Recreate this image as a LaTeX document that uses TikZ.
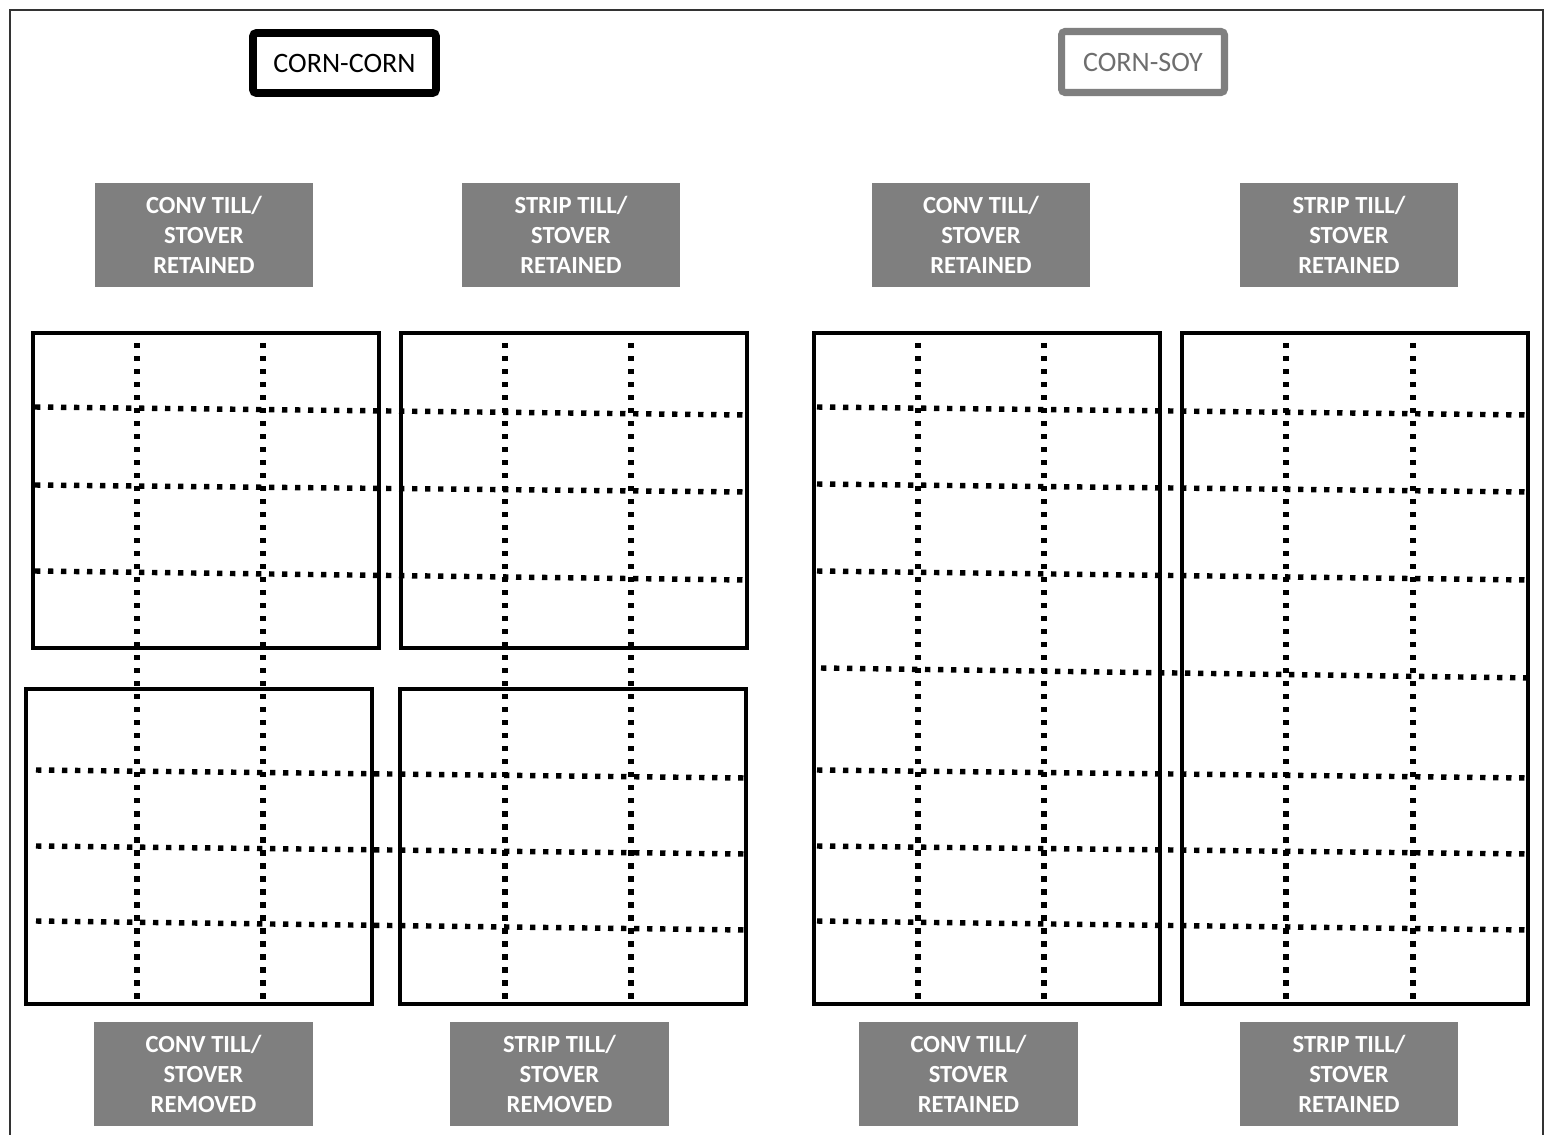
\documentclass[tikz,border=0pt]{standalone}
\usepackage{fontspec}
\setmainfont{Carlito}
\definecolor{labgray}{HTML}{7F7F7F}
\definecolor{framegray}{HTML}{333333}
\definecolor{soygray}{HTML}{7F7F7F}
\definecolor{soytext}{HTML}{6E6E6E}
\begin{document}
\begin{tikzpicture}[x=0.02cm,y=-0.02cm,
  lab/.style={fill=labgray, text=white, font=\bfseries\fontsize{14}{17}\selectfont,
    align=center, inner sep=0pt, minimum width=4.37cm, minimum height=2.08cm},
  plotbox/.style={draw=black, line width=2.1pt},
  dotline/.style={line width=3.1pt, dash pattern=on 3.1pt off 4.3pt},
  titlebox/.style={rounded corners=2pt, inner sep=0pt, font=\fontsize{16}{18}\selectfont},
]
\useasboundingbox (0,0) rectangle (1546,1135);
\fill[white] (0,0) rectangle (1546,1135);
\draw[line width=1.3pt, draw=framegray] (10,1140) -- (10,10) -- (1543,10) -- (1543,1140);

% titles
\node[titlebox, draw=black, line width=4.5pt, minimum width=3.66cm, minimum height=1.2cm] (cc) at (344.5,63) {CORN-CORN};
\node[titlebox, draw=soygray, text=soytext, line width=4pt, minimum width=3.26cm, minimum height=1.22cm] (cs) at (1143,62) {CORN-SOY};

% labels
\node[lab] (l1) at (204,235) {CONV TILL/\\STOVER\\RETAINED};
\node[lab] (l2) at (571,235) {STRIP TILL/\\STOVER\\RETAINED};
\node[lab] (l3) at (981,235) {CONV TILL/\\STOVER\\RETAINED};
\node[lab] (l4) at (1349,235) {STRIP TILL/\\STOVER\\RETAINED};
\node[lab] (l5) at (203.5,1074) {CONV TILL/\\STOVER\\REMOVED};
\node[lab] (l6) at (559.5,1074) {STRIP TILL/\\STOVER\\REMOVED};
\node[lab] (l7) at (968.5,1074) {CONV TILL/\\STOVER\\RETAINED};
\node[lab] (l8) at (1349,1074) {STRIP TILL/\\STOVER\\RETAINED};

% plot boxes
\draw[plotbox] (33,333) rectangle (379,648);
\draw[plotbox] (401,333) rectangle (747,648);
\draw[plotbox] (26,689) rectangle (372,1004);
\draw[plotbox] (400,689) rectangle (746,1004);
\draw[plotbox] (814,333) rectangle (1160,1004);
\draw[plotbox] (1182,333) rectangle (1528,1004);

% vertical dotted lines
\foreach \xx in {137,263,505,631,918,1044,1286,1413}
  \draw[dotline] (\xx,343) -- (\xx,1001);

% horizontal dotted lines, corn-corn
\draw[dotline] (35,407) -- (745,415);
\draw[dotline] (35,485) -- (745,492);
\draw[dotline] (35,571) -- (745,580);
\draw[dotline] (36,770) -- (745,778);
\draw[dotline] (36,846) -- (745,854);
\draw[dotline] (36,921) -- (745,930);

% horizontal dotted lines, corn-soy
\draw[dotline] (817,407) -- (1527,415);
\draw[dotline] (817,484) -- (1527,492);
\draw[dotline] (817,571) -- (1527,580);
\draw[dotline] (821,668) -- (1532,678);
\draw[dotline] (817,770) -- (1527,778);
\draw[dotline] (817,846) -- (1527,854);
\draw[dotline] (817,921) -- (1527,930);
\end{tikzpicture}
\end{document}
